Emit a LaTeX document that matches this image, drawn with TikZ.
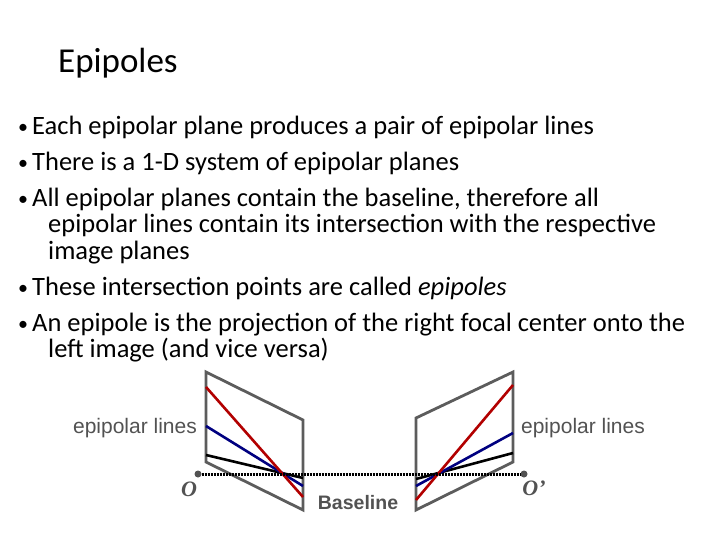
\documentclass[tikz,border=0pt]{standalone}
\usepackage{fontspec}
\setmainfont{Carlito}
\newfontfamily\arialf{Liberation Sans}
\newfontfamily\timesf{Liberation Serif}
\begin{document}
\begin{tikzpicture}[x=1pt,y=-1pt,
  plane/.style={draw=gray!30!black!75,line width=2.8pt,line join=miter},
  eline/.style={line width=2.6pt},
  bul/.style={anchor=base west,inner sep=0,font=\fontsize{26.5}{30}\selectfont},
  bdot/.style={anchor=base west,inner sep=0,font=\fontsize{20}{24}\selectfont},
  lab/.style={text=gray!30!black!80,inner sep=0}]
\useasboundingbox (0,0) rectangle (720,540);
\node[anchor=base west,inner sep=0,font=\fontsize{35}{42}\selectfont] (title) at (58,73) {Epipoles};
\foreach \y/\t [count=\i] in {135/Each epipolar plane produces a pair of epipolar lines,
  171/There is a 1-D system of epipolar planes,
  207/{All epipolar planes contain the baseline, therefore all},
  295/These intersection points are called \textit{epipoles},
  331/An epipole is the projection of the right focal center onto the}{
  \node[bdot] (b\i) at (18,\y-1) {•};
  \node[bul] (t\i) at (32,\y) {\t};}
\node[bul] (c1) at (48,233) {epipolar lines contain its intersection with the respective};
\node[bul] (c2) at (48,259) {image planes};
\node[bul] (c3) at (48,357) {left image (and vice versa)};
% planes
\draw[plane] (206,372) -- (303,420) -- (303,510) -- (206,462) -- cycle;
\draw[plane] (416,418) -- (513,372) -- (513,462) -- (416,510) -- cycle;
% lines
\coordinate (lr1) at (206,387); \coordinate (lr2) at (303,497);
\coordinate (lb1) at (206,426); \coordinate (lb2) at (303,486);
\coordinate (lk1) at (206,455); \coordinate (lk2) at (303,478);
\coordinate (rr1) at (416,500); \coordinate (rr2) at (513,385);
\coordinate (rb1) at (416,486); \coordinate (rb2) at (513,433);
\coordinate (rk1) at (416,479); \coordinate (rk2) at (513,453);
\draw[eline,black] (lk1) -- (lk2); \draw[eline,black] (rk1) -- (rk2);
\draw[eline,blue!50!black] (lb1) -- (lb2); \draw[eline,blue!50!black] (rb1) -- (rb2);
\draw[eline,red!70!black] (lr1) -- (lr2); \draw[eline,red!70!black] (rr1) -- (rr2);
% baseline
\node[circle,fill=gray!30!black!80,inner sep=0,minimum size=7pt] (O) at (198,474) {};
\node[circle,fill=gray!30!black!80,inner sep=0,minimum size=7pt] (O2) at (524,474) {};
\draw[line width=3pt,dash pattern=on 2pt off 1pt] (O) -- (O2);
\node[lab,font=\timesf\bfseries\itshape\fontsize{22}{26}\selectfont] (Ol) at (189,489) {O};
\node[lab,font=\timesf\bfseries\itshape\fontsize{22}{26}\selectfont] (O2l) at (534,488) {O’};
\node[lab,font=\arialf\bfseries\fontsize{19.5}{24}\selectfont] (bl) at (358,503) {Baseline};
\node[lab,font=\arialf\fontsize{21}{25}\selectfont] (el) at (135,428) {epipolar lines};
\node[lab,font=\arialf\fontsize{21}{25}\selectfont] (er) at (583,428) {epipolar lines};
\end{tikzpicture}
\end{document}
